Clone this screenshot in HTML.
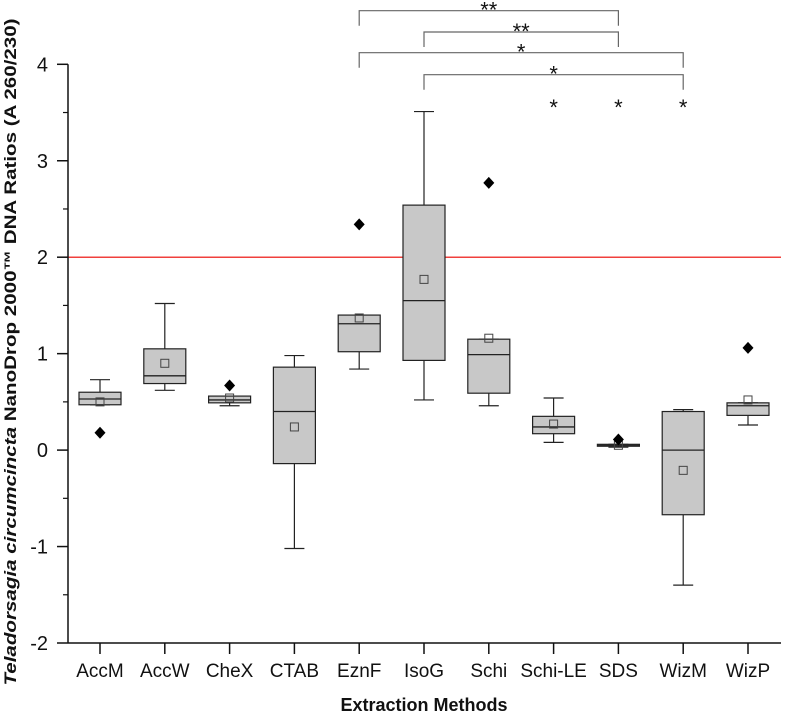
<!DOCTYPE html>
<html><head><meta charset="utf-8"><style>
html,body{margin:0;padding:0;background:#fff;}
svg{display:block;font-family:"Liberation Sans",Arial,sans-serif;}
</style></head><body>
<svg id="chart" width="787" height="715">
<g id="plot"></g>
</svg>
<script>
const categories=["AccM","AccW","CheX","CTAB","EznF","IsoG","Schi","Schi-LE","SDS","WizM","WizP"];
const whiskerHigh=[0.73,1.52,0.56,0.98,1.40,3.51,1.15,0.54,0.06,0.42,0.49];
const q3=[0.60,1.05,0.56,0.86,1.40,2.54,1.15,0.35,0.06,0.40,0.49];
const median=[0.53,0.77,0.52,0.40,1.31,1.55,0.99,0.24,0.05,0.00,0.46];
const q1=[0.47,0.69,0.49,-0.14,1.02,0.93,0.59,0.17,0.04,-0.67,0.36];
const whiskerLow=[0.47,0.62,0.46,-1.02,0.84,0.52,0.46,0.08,0.03,-1.40,0.26];
const means=[0.50,0.90,0.54,0.24,1.37,1.77,1.16,0.27,0.05,-0.21,0.52];
const outliers=[[0,0.18],[2,0.67],[4,2.34],[6,2.77],[8,0.11],[10,1.06]];
const yTicks=[-2,-1,0,1,2,3,4];
const threshold=2;
const brackets=[[4,8,"**"],[5,8,"**"],[4,9,"*"],[5,9,"*"]];
const starCats=[7,8,9];

const NS="http://www.w3.org/2000/svg";
const g=document.getElementById('plot');
const X0=68,XR=781,YB=643,YT=64.3;
const yScale=v=>YB-(v+2)*(YB-YT)/6;
const xScale=i=>100+i*64.8;
function el(t,a,txt){const e=document.createElementNS(NS,t);for(const k in a)e.setAttribute(k,a[k]);if(txt!==undefined)e.textContent=txt;g.appendChild(e);return e;}

let e=el('line',{x1:X0,x2:XR,y1:yScale(threshold),y2:yScale(threshold),stroke:'#f0403c','stroke-width':1.5});



categories.forEach((c,i)=>{
  const x=xScale(i),w=42;
  let l=el('line',{x1:x,x2:x,y1:yScale(whiskerHigh[i]),y2:yScale(q3[i]),stroke:'#222','stroke-width':1.2});
  
  
  l=el('line',{x1:x-10,x2:x+10,y1:yScale(whiskerHigh[i]),y2:yScale(whiskerHigh[i]),stroke:'#222','stroke-width':1.2});
  
  
  l=el('line',{x1:x,x2:x,y1:yScale(q1[i]),y2:yScale(whiskerLow[i]),stroke:'#222','stroke-width':1.2});
  
  
  l=el('line',{x1:x-10,x2:x+10,y1:yScale(whiskerLow[i]),y2:yScale(whiskerLow[i]),stroke:'#222','stroke-width':1.2});
  
  
  const b=el('rect',{x:x-w/2,y:yScale(q3[i]),width:w,height:Math.max(1,yScale(q1[i])-yScale(q3[i])),fill:'#c8c8c8',stroke:'#222','stroke-width':1.2});
  
  
  l=el('line',{x1:x-w/2,x2:x+w/2,y1:yScale(median[i]),y2:yScale(median[i]),stroke:'#222','stroke-width':1.3});
  
  
  const m=el('rect',{x:x-4,y:yScale(means[i])-4,width:8,height:8,fill:'none',stroke:'#444','stroke-width':1});
  
  
  l=el('line',{x1:x,x2:x,y1:YB,y2:YB+11,stroke:'#111','stroke-width':1.5});
  
  
  const t=el('text',{x:x,y:677,'font-size':19,'text-anchor':'middle',fill:'#111'},c);
  
  
});
outliers.forEach(o=>{
  const x=xScale(o[0]),y=yScale(o[1]);
  const d=el('polygon',{points:`${x},${y-6} ${x+5.5},${y} ${x},${y+6} ${x-5.5},${y}`,fill:'#000'});
  
  
});

let ax=el('line',{x1:X0,x2:X0,y1:YT,y2:YB,stroke:'#111','stroke-width':1.5});


ax=el('line',{x1:X0,x2:XR,y1:YB,y2:YB,stroke:'#111','stroke-width':1.5});


yTicks.forEach(v=>{
  const y=yScale(v);
  let l=el('line',{x1:X0-11,x2:X0,y1:y,y2:y,stroke:'#111','stroke-width':1.5});
  
  
  if(v<4){const ym=yScale(v+0.5);
    l=el('line',{x1:X0-5,x2:X0,y1:ym,y2:ym,stroke:'#111','stroke-width':1.2});
    
    }
  const t=el('text',{x:48,y:y+7,'font-size':20,'text-anchor':'end',fill:'#111'},String(v));
  
  
});

const by=[10.7,32,52.7,74.7];
brackets.forEach((br,k)=>{
  const xa=xScale(br[0]),xb=xScale(br[1]),y=by[k];
  const p=el('path',{d:`M${xa},${y+15} V${y} H${xb} V${y+15}`,fill:'none',stroke:'#666','stroke-width':1.2});
  
  
  const t=el('text',{x:(xa+xb)/2,y:y+7,'font-size':22,'text-anchor':'middle',fill:'#111'},br[2]);
  
  
});
starCats.forEach(i=>{
  const t=el('text',{x:xScale(i),y:115,'font-size':22,'text-anchor':'middle',fill:'#111'},'*');
  
  
});

let tt=el('text',{x:424,y:711,'font-size':18,'font-weight':'bold','text-anchor':'middle',fill:'#111'},'Extraction Methods');


tt=el('text',{transform:'translate(16,352) rotate(-90)','font-size':16.5,'font-weight':'bold','text-anchor':'middle',fill:'#111',textLength:667,lengthAdjust:'spacingAndGlyphs'});


tt.innerHTML='<tspan font-style="italic">Teladorsagia circumcincta</tspan> NanoDrop 2000™ DNA Ratios (A 260/230)';
</script>
</body></html>
